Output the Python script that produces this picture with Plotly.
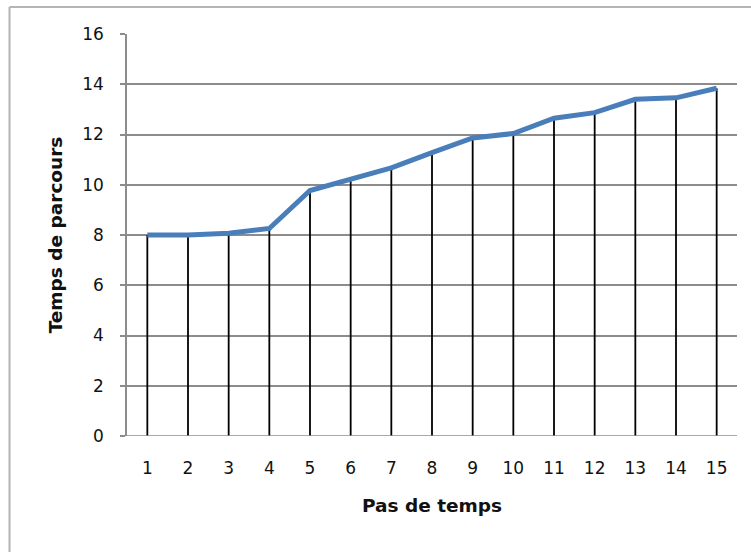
import plotly.graph_objects as go

steps = list(range(1, 16))
temps_parcours = [8.0, 8.0, 8.07, 8.26, 9.77, 10.23, 10.67, 11.28, 11.86, 12.04, 12.65, 12.87, 13.4, 13.46, 13.84]
y_ticks = [0, 2, 4, 6, 8, 10, 12, 14, 16]
x_title = "Pas de temps"
y_title = "Temps de parcours"

# drop lines from each point to the axis
drop_x, drop_y = [], []
for s, v in zip(steps, temps_parcours):
    drop_x += [s, s, None]
    drop_y += [0, v, None]

fig = go.Figure()
fig.add_trace(go.Scatter(x=drop_x, y=drop_y, mode="lines",
                         line=dict(color="black", width=1.8),
                         hoverinfo="skip", showlegend=False))
fig.add_trace(go.Scatter(x=steps, y=temps_parcours, mode="lines",
                         line=dict(color="#4A7EBB", width=5),
                         showlegend=False))

W, H = 751, 552
L, R, T, B = 127, 14, 34, 116
pw, ph = W - L - R, H - T - B
bx = (9.5 - L) / pw
by = 1 + (T - 7) / ph

font_family = "'DejaVu Sans', sans-serif"
fig.update_layout(
    width=W, height=H, autosize=False,
    margin=dict(l=L, r=R, t=T, b=B, autoexpand=False),
    paper_bgcolor="white", plot_bgcolor="white",
    font=dict(family=font_family, size=17, color="#111111"),
    xaxis=dict(range=[0.5, 15.5], tickvals=steps, ticktext=[str(s) for s in steps],
               showgrid=False, zeroline=False, showline=False, ticks="",
               ticklabelstandoff=20,
               title=dict(text="<b>" + x_title + "</b>", standoff=22,
                          font=dict(size=18.5))),
    yaxis=dict(range=[0, 16], tickvals=y_ticks,
               showgrid=True, gridcolor="#8C8C8C", gridwidth=1.5,
               zeroline=False, showline=True, linecolor="#8C8C8C", linewidth=1.5,
               ticks="outside", ticklen=5, tickcolor="#8C8C8C", tickwidth=1.5,
               ticklabelstandoff=13,
               title=dict(text="<b>" + y_title + "</b>", standoff=15,
                          font=dict(size=18.5))),
    shapes=[
        dict(type="line", xref="paper", yref="paper",
             x0=bx, x1=bx, y0=by, y1=-B / ph - 0.01,
             line=dict(color="#B4B4B4", width=2)),
        dict(type="line", xref="paper", yref="paper",
             x0=bx, x1=1.05, y0=by, y1=by,
             line=dict(color="#B4B4B4", width=2)),
        dict(type="line", xref="x", yref="y", x0=0.5, x1=15.5, y0=0, y1=0,
             line=dict(color="#8C8C8C", width=1.5)),
    ],
)

fig.write_html("out.html",
               config={"displayModeBar": False, "responsive": False},
               post_script="document.body.style.margin='0';document.body.style.overflow='hidden';")
